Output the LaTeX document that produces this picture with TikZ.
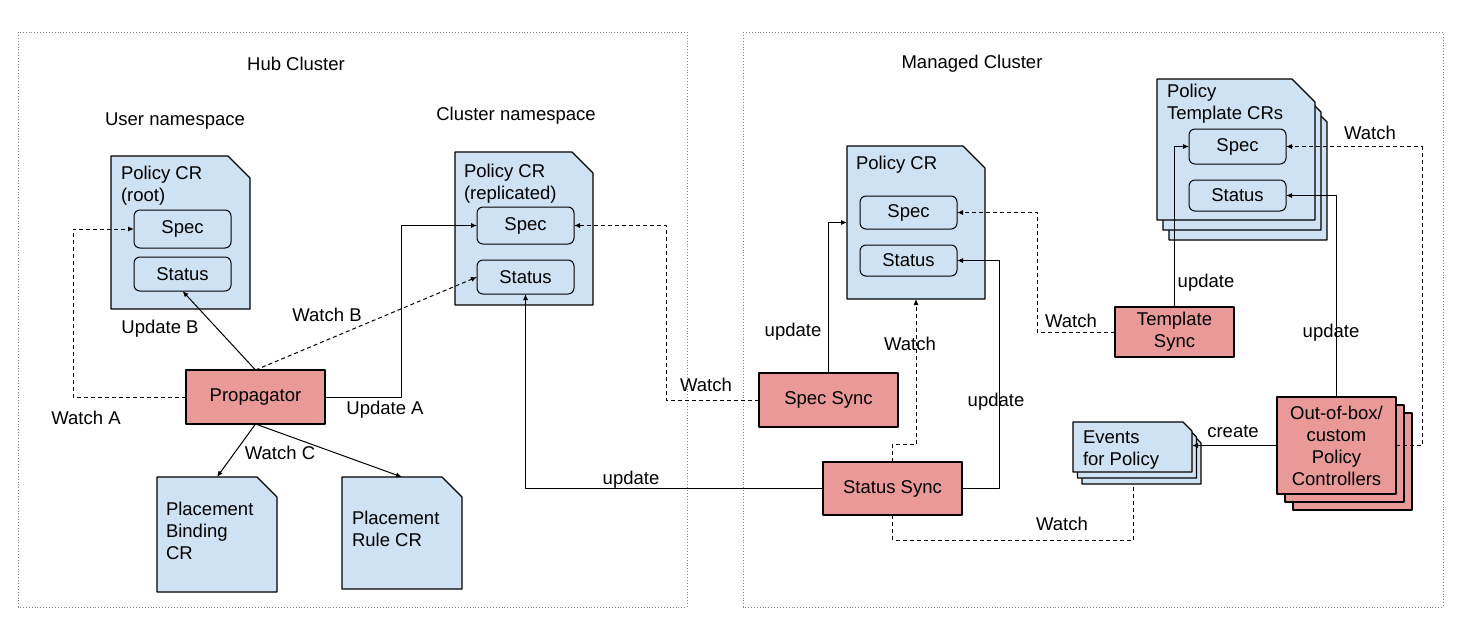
\documentclass[tikz,border=0pt]{standalone}
\usepackage{fontspec}
\setmainfont{Liberation Sans}
\usetikzlibrary{arrows.meta}
\definecolor{docblue}{HTML}{CFE2F3}
\definecolor{procred}{HTML}{EA9999}
\newcommand{\docpath}[2]{%
  \draw[docline] (#1.north west) -- ([xshift=-#2pt]#1.north east)
    -- ([yshift=-#2pt]#1.north east) -- (#1.south east) -- (#1.south west) -- cycle;}
\begin{document}
\begin{tikzpicture}[x=1pt, y=-1pt, >={Latex[length=6pt,width=5pt]}, line join=round,
  font=\fontsize{18.5}{22}\selectfont,
  every node/.style={inner sep=0pt, outer sep=0pt},
  procbox/.style={draw, fill=procred, line width=1.1pt, align=center},
  partbox/.style={draw, fill=docblue, rounded corners=6pt, line width=1pt, minimum width=97pt},
  docline/.style={draw, fill=docblue, line width=1.1pt},
  doctext/.style={anchor=west, align=left},
  flow/.style={->, line width=1pt},
  watch/.style={line width=1pt, dash pattern=on 4pt off 3pt},
  cluster/.style={draw=gray, dotted, line width=0.9pt}]
  \useasboundingbox (0,0) rectangle (1464,641);

  % Clusters
  \draw[cluster] (18,32) rectangle (687,607);
  \draw[cluster] (743,32) rectangle (1443,607);
  \node (hubtitle) at (296,64) {Hub Cluster};
  \node (mngtitle) at (972,64) {Managed Cluster};
  \node (userns) at (175,121) {User namespace};
  \node (clusterns) at (516,116) {Cluster namespace};

  % Hub: policy documents
  \node[minimum width=139, minimum height=153] (rootcr) at (180.5,232.5) {};
  \docpath{rootcr}{22}
  \node[doctext] (rootcrtext) at (121,186) {Policy CR\\(root)};
  \node[partbox, minimum height=38] (rootspec) at (182.5,229) {Spec};
  \node[partbox, minimum height=34] (rootstat) at (182.5,274) {Status};

  \node[minimum width=138, minimum height=153] (repcr) at (524,228.5) {};
  \docpath{repcr}{21}
  \node[doctext] (repcrtext) at (464,184) {Policy CR\\(replicated)};
  \node[partbox, minimum height=37] (repspec) at (525.5,225.5) {Spec};
  \node[partbox, minimum height=34] (repstat) at (525.5,277) {Status};

  \node[minimum width=120, minimum height=115] (bindcr) at (217,534.5) {};
  \docpath{bindcr}{20}
  \node[doctext] (bindcrtext) at (166,531) {Placement\\Binding\\CR};
  \node[minimum width=120, minimum height=112] (rulecr) at (402,533) {};
  \docpath{rulecr}{20}
  \node[doctext] (rulecrtext) at (352,529) {Placement\\Rule CR};

  % Hub: propagator
  \node[procbox, minimum width=139, minimum height=54] (prop) at (255.5,397) {Propagator};

  % Managed: policy documents
  \node[minimum width=138, minimum height=153] (mcr) at (916,222.5) {};
  \docpath{mcr}{22}
  \node[doctext] (mcrtext) at (856,165) {Policy CR};
  \node[partbox, minimum height=33] (mspec) at (908.5,212.5) {Spec};
  \node[partbox, minimum height=31] (mstat) at (908.5,260.5) {Status};

  \node[minimum width=158, minimum height=141] (tcrc) at (1248,169.5) {};
  \docpath{tcrc}{23}
  \node[minimum width=158, minimum height=141] (tcrb) at (1242,159.5) {};
  \docpath{tcrb}{23}
  \node[minimum width=158, minimum height=141] (tcr) at (1236,149.5) {};
  \docpath{tcr}{23}
  \node[doctext] (tcrtext) at (1167,104) {Policy\\Template CRs};
  \node[partbox, minimum height=35] (tspec) at (1237.5,146.5) {Spec};
  \node[partbox, minimum height=31] (tstat) at (1237.5,195.5) {Status};

  \node[minimum width=119, minimum height=50] (evc) at (1141.5,459) {};
  \docpath{evc}{9}
  \node[minimum width=119, minimum height=50] (evb) at (1137,453) {};
  \docpath{evb}{9}
  \node[minimum width=119, minimum height=50] (ev) at (1132.5,447) {};
  \docpath{ev}{9}
  \node[doctext] (evtext) at (1083,450) {Events\\for Policy};

  % Managed: controllers
  \node[procbox, minimum width=139, minimum height=54] (specsync) at (828.5,400) {Spec Sync};
  \node[procbox, minimum width=139, minimum height=53] (statsync) at (892.5,488.5) {Status Sync};
  \node[procbox, minimum width=119, minimum height=50] (tsync) at (1174.5,332) {Template\\Sync};
  \node[procbox, minimum width=119, minimum height=97] (ctrlc) at (1352.5,461.5) {};
  \node[procbox, minimum width=119, minimum height=97] (ctrlb) at (1344.5,453.5) {};
  \node[procbox, minimum width=119, minimum height=97] (ctrl) at (1336.5,445.5) {Out-of-box/\\custom\\Policy\\Controllers};

  % Hub connectors
  \coordinate (wa) at (73,229);
  \draw[watch, ->] (prop.west) -| (wa) -- (rootspec.west);
  \draw[flow] (prop.north) -- (rootstat.south);
  \draw[watch, ->] (prop.north) -- (repstat.west);
  \coordinate (ua) at (401,225.5);
  \draw[flow] (prop.east) -| (ua) -- (repspec.west);
  \draw[flow] (prop.south) -- (bindcr.north);
  \draw[flow] (prop.south) -- (rulecr.north);
  \node (lwatcha) at (86,418) {Watch A};
  \node (lupdateb) at (160,329) {Update B};
  \node (lwatchb) at (327,315) {Watch B};
  \node (lupdatea) at (385,410) {Update A};
  \node (lwatchc) at (280,453) {Watch C};

  % Managed to hub connectors
  \coordinate (sw) at (666,225.5);
  \draw[watch, ->] (specsync.west) -| (sw) -- (repspec.east);
  \draw[flow] (statsync.west) -| (repstat.south);
  \node (lwatchspec) at (706,385) {Watch};
  \node (lupdatestat) at (631,480) {update};

  % Managed connectors
  \draw[flow] (specsync.north) |- (mcr.west);
  \coordinate (ssw) at (892.5,444);
  \draw[watch, ->] (statsync.north) -- (ssw) -| (mcr.south);
  \coordinate (ssu) at (999,260.5);
  \draw[flow] (statsync.east) -| (ssu) -- (mstat.east);
  \coordinate (tw) at (1037,212.5);
  \draw[watch, ->] (tsync.west) -| (tw) -- (mspec.east);
  \coordinate (ew) at (1133,540);
  \draw[watch] (statsync.south) |- (ew) -- (ew |- evc.south);
  \draw[flow] (tsync.north) |- (tspec.west);
  \draw[flow] (ctrl.north) |- (tstat.east);
  \coordinate (cw) at (1422,146.5);
  \draw[watch, ->] (ctrl.east) -| (cw) -- (tspec.east);
  \draw[flow] (ctrl.west) -- (ctrl.west -| ev.east);
  \node (lupdatespec) at (793,332) {update};
  \node (lwatchm) at (910,344) {Watch};
  \node (lupdatem) at (996,402) {update};
  \node (lwatcht) at (1071,321) {Watch};
  \node (lwatchev) at (1062,524) {Watch};
  \node (lupdatet) at (1206,283) {update};
  \node (lupdatec) at (1331,333) {update};
  \node (lwatchc2) at (1370,133) {Watch};
  \node (lcreate) at (1233,432) {create};
\end{tikzpicture}
\end{document}
